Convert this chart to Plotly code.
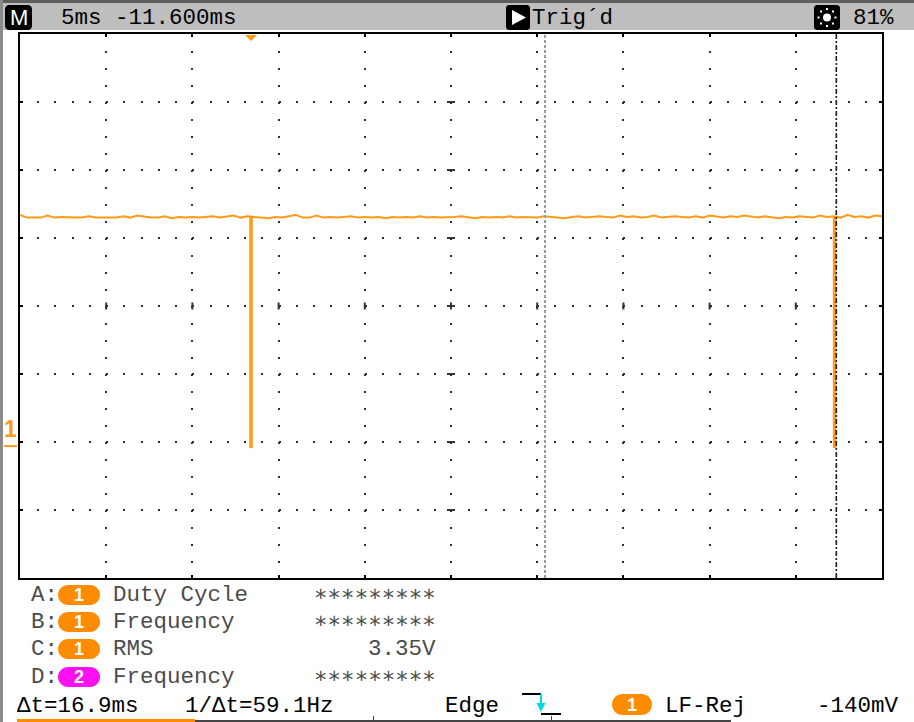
import math
import numpy as np
import plotly.graph_objects as go

time_div_ms = 5.0
volt_div = 1.0
x_range_ms = [-13.4, 36.6]    # 10 divisions, trigger point at 0 ms
y_range_v = [-1.94, 6.06]     # 8 divisions, CH1 ground at 0 V

t_ch1_ms = np.linspace(-13.4, 36.6, 126)   # sample times
v_ch1 = [
    3.40, 3.36, 3.36, 3.36, 3.39, 3.36, 3.37, 3.36, 3.36, 3.36, 3.38, 3.36, 3.36, 3.37,
    3.36, 3.38, 3.36, 3.39, 3.37, 3.36, 3.36, 3.38, 3.35, 3.37, 3.36, 3.37, 3.36, 3.37,
    3.38, 3.36, 3.37, 3.39, 3.36, 3.38, 3.37, 3.36, 3.35, 3.37, 3.36, 3.38, 3.40, 3.36,
    3.36, 3.39, 3.36, 3.37, 3.36, 3.37, 3.38, 3.36, 3.37, 3.36, 3.37, 3.35, 3.37, 3.36,
    3.37, 3.36, 3.38, 3.36, 3.37, 3.36, 3.36, 3.37, 3.38, 3.36, 3.35, 3.37, 3.36, 3.37,
    3.36, 3.38, 3.36, 3.37, 3.37, 3.36, 3.38, 3.37, 3.36, 3.35, 3.37, 3.38, 3.36, 3.37,
    3.38, 3.37, 3.36, 3.39, 3.37, 3.38, 3.36, 3.37, 3.39, 3.36, 3.37, 3.38, 3.37, 3.36,
    3.38, 3.36, 3.39, 3.37, 3.36, 3.38, 3.37, 3.39, 3.37, 3.36, 3.38, 3.37, 3.35, 3.37,
    3.36, 3.38, 3.37, 3.36, 3.39, 3.37, 3.38, 3.36, 3.40, 3.37, 3.38, 3.36, 3.39, 3.38,
]
spike_t_ms = [0.0, 33.85]
spike_top_v = [3.37, 3.37]
spike_bottom_v = [-0.03, -0.03]
cursor_t_ms = [17.05, 33.95]
trigger_t_ms = 0.0

top_left_text = "5ms -11.600ms"
trig_text = "Trig\u00b4d"
bright_text = "81%"
meas_keys = ["A:", "B:", "C:", "D:"]
meas_chan = ["1", "1", "1", "2"]
meas_names = ["Duty Cycle", "Frequency", "RMS", "Frequency"]
meas_values = ["\u2217" * 9, "\u2217" * 9, "3.35V", "\u2217" * 9]
status_dt = "\u0394t=16.9ms"
status_inv = "1/\u0394t=59.1Hz"
trig_type = "Edge"
trig_chan = "1"
trig_coupling = "LF-Rej"
trig_level = "-140mV"

# ---------------- styling ----------------
W, H = 914, 722
ORANGE = "#FF9A14"
PILL_ORANGE = "#FF8C00"
MAGENTA = "#FF10F0"
MONO = "Liberation Mono, DejaVu Sans Mono, monospace"
SANS = "Liberation Sans, Arial, sans-serif"
PLOT_L, PLOT_R, PLOT_T, PLOT_B = 20, 882, 34, 578
FS = 22.5


def px(x):
    return x / W


def py(y):
    return 1 - y / H


shapes = []
annotations = []


def rect(x0, y0, x1, y1, color):
    shapes.append(dict(type="rect", xref="paper", yref="paper",
                       x0=px(x0), x1=px(x1), y0=py(y1), y1=py(y0),
                       fillcolor=color, line=dict(width=0), layer="above"))


def pline(x0, y0, x1, y1, color, width=1, dash="solid"):
    shapes.append(dict(type="line", xref="paper", yref="paper",
                       x0=px(x0), x1=px(x1), y0=py(y0), y1=py(y1),
                       line=dict(color=color, width=width, dash=dash)))


def rounded(x0, y0, x1, y1, r, color):
    k = 0.5523 * r

    def p(x, y):
        return f"{px(x):.6f},{py(y):.6f}"
    d = (f"M{p(x0 + r, y0)} L{p(x1 - r, y0)} "
         f"C{p(x1 - r + k, y0)} {p(x1, y0 + r - k)} {p(x1, y0 + r)} "
         f"L{p(x1, y1 - r)} "
         f"C{p(x1, y1 - r + k)} {p(x1 - r + k, y1)} {p(x1 - r, y1)} "
         f"L{p(x0 + r, y1)} "
         f"C{p(x0 + r - k, y1)} {p(x0, y1 - r + k)} {p(x0, y1 - r)} "
         f"L{p(x0, y0 + r)} "
         f"C{p(x0, y0 + r - k)} {p(x0 + r - k, y0)} {p(x0 + r, y0)} Z")
    shapes.append(dict(type="path", xref="paper", yref="paper", path=d,
                       fillcolor=color, line=dict(width=0), layer="above"))


def poly(points, color):
    d = "M" + " L".join(f"{px(x):.6f},{py(y):.6f}" for x, y in points) + " Z"
    shapes.append(dict(type="path", xref="paper", yref="paper", path=d,
                       fillcolor=color, line=dict(width=0), layer="above"))


def label(x, y, text, color="#000000", size=FS, anchor="left", family=MONO):
    annotations.append(dict(xref="paper", yref="paper", x=px(x), y=py(y),
                            text=text, showarrow=False, xanchor=anchor,
                            yanchor="middle", borderpad=0,
                            font=dict(family=family, size=size, color=color)))


# ---------------- frame and top bar ----------------
rect(0, 0, W, 30, "#bebebe")
rect(0, 0, W, 3, "#5e5e5e")
rect(0, 0, 3, H, "#8a8a8a")

rounded(5, 5, 32, 30, 4, "#000000")
label(18.5, 17.5, "M", "#ffffff", 22, "center", SANS)
label(60, 17.5, top_left_text, "#000000")

rounded(506, 5, 530, 30, 3, "#000000")
poly([(512, 10), (526, 17.5), (512, 25)], "#ffffff")
label(531, 17.5, trig_text, "#000000")

rounded(814, 5, 840, 30, 3, "#000000")
shapes.append(dict(type="circle", xref="paper", yref="paper",
                   x0=px(823), x1=px(831), y0=py(21.5), y1=py(13.5),
                   fillcolor="#ffffff", line=dict(width=0)))
for i in range(8):
    a = i * math.pi / 4
    cx, cy = 827 + 8.5 * math.cos(a), 17.5 + 8.5 * math.sin(a)
    rect(cx - 1, cy - 1, cx + 1, cy + 1, "#ffffff")
label(852, 17.5, bright_text, "#000000")

# ---------------- measurements ----------------
row_y = [595, 622, 649, 677]
for key, ch, name, val, yc in zip(meas_keys, meas_chan, meas_names, meas_values, row_y):
    label(30, yc, key, "#4c4c4c")
    rounded(58, yc - 10, 100, yc + 10, 10, PILL_ORANGE if ch == "1" else MAGENTA)
    label(79, yc, f"<b>{ch}</b>", "#ffffff", 18, "center", SANS)
    label(112, yc, name, "#4c4c4c")
    label(437, yc, val, "#4c4c4c", FS, "right")

# ---------------- status line ----------------
sy = 706
label(16, sy, status_dt, "#000000")
label(184, sy, status_inv, "#000000")
label(444, sy, trig_type, "#000000")
pline(522, 694, 541, 694, "#000000", 2)
pline(541, 694, 541, 706, "#00d8e8", 2)
poly([(536.5, 703), (545.5, 703), (541, 712)], "#00d8e8")
pline(541, 714, 561, 714, "#000000", 2)
rounded(612, 694, 652, 715, 10.5, PILL_ORANGE)
label(632, 704.5, f"<b>{trig_chan}</b>", "#ffffff", 18, "center", SANS)
label(664, sy, trig_coupling, "#000000")
label(900, sy, trig_level, "#000000", FS, "right")

rect(17, 719, 195, 722, PILL_ORANGE)
rect(195, 720, 731, 722, "#444444")
for sx in (373, 551):
    rect(sx, 716, sx + 1, 722, "#444444")

# ---------------- traces ----------------
fig = go.Figure()
fig.add_trace(go.Scatter(x=t_ch1_ms, y=v_ch1, mode="lines",
                         line=dict(color=ORANGE, width=2), hoverinfo="skip"))
for t, top, bot in zip(spike_t_ms, spike_top_v, spike_bottom_v):
    fig.add_trace(go.Scatter(x=[t, t], y=[top, bot], mode="lines",
                             line=dict(color=ORANGE, width=3.5), hoverinfo="skip"))

# cursors
shapes.append(dict(type="line", xref="x", yref="y domain",
                   x0=cursor_t_ms[0], x1=cursor_t_ms[0], y0=0, y1=1,
                   line=dict(color="#9a9a9a", width=2, dash="3px,2px")))
shapes.append(dict(type="line", xref="x", yref="y domain",
                   x0=cursor_t_ms[1], x1=cursor_t_ms[1], y0=0, y1=1,
                   line=dict(color="#1a1a1a", width=1.6, dash="5px,2px,2px,2px")))

# trigger position marker
shapes.append(dict(type="path", xref="x", yref="y", xsizemode="pixel", ysizemode="pixel",
                   xanchor=trigger_t_ms, yanchor=y_range_v[1],
                   path="M-6,-1 L6,-1 L0,-7 Z", fillcolor=ORANGE, line=dict(width=0)))

# channel 1 ground marker
annotations.append(dict(xref="paper", yref="y", x=px(10.5), y=0, text="<b>1</b>",
                        showarrow=False, xanchor="center", yanchor="bottom",
                        yshift=3, borderpad=0,
                        font=dict(family=SANS, size=23, color=ORANGE)))
shapes.append(dict(type="line", xref="paper", yref="y", x0=px(4), x1=px(17),
                   y0=0, y1=0, line=dict(color=ORANGE, width=2)))

# centre-line division marks
c_t = (x_range_ms[0] + x_range_ms[1]) / 2
c_v = (y_range_v[0] + y_range_v[1]) / 2
v_per_px = (y_range_v[1] - y_range_v[0]) / (PLOT_B - PLOT_T)
t_per_px = (x_range_ms[1] - x_range_ms[0]) / (PLOT_R - PLOT_L)
for k in range(1, 10):
    tk = x_range_ms[0] + k * time_div_ms
    shapes.append(dict(type="line", xref="x", yref="y", x0=tk, x1=tk,
                       y0=c_v - 3.5 * v_per_px, y1=c_v + 3.5 * v_per_px,
                       line=dict(color="#333333", width=2)))
for k in range(1, 8):
    vk = y_range_v[0] + k * volt_div
    shapes.append(dict(type="line", xref="x", yref="y",
                       x0=c_t - 4 * t_per_px, x1=c_t + 4 * t_per_px, y0=vk, y1=vk,
                       line=dict(color="#333333", width=2)))

fig.update_layout(
    width=W, height=H, autosize=False,
    margin=dict(l=0, r=0, t=0, b=0),
    paper_bgcolor="#ffffff", plot_bgcolor="#ffffff",
    showlegend=False,
    shapes=shapes, annotations=annotations,
    xaxis=dict(domain=[px(PLOT_L), px(PLOT_R)], range=x_range_ms,
               tick0=x_range_ms[0], dtick=time_div_ms,
               showgrid=True, gridcolor="#2e2e2e", gridwidth=2, griddash="2px,15px",
               zeroline=False, showticklabels=False,
               ticks="inside", ticklen=3, tickwidth=2, tickcolor="#000000",
               showline=True, linecolor="#000000", linewidth=2, mirror="ticks",
               fixedrange=True),
    yaxis=dict(domain=[py(PLOT_B), py(PLOT_T)], range=y_range_v,
               tick0=y_range_v[0], dtick=volt_div,
               showgrid=True, gridcolor="#2e2e2e", gridwidth=2, griddash="2px,15.24px",
               zeroline=False, showticklabels=False,
               ticks="inside", ticklen=3, tickwidth=2, tickcolor="#000000",
               showline=True, linecolor="#000000", linewidth=2, mirror="ticks",
               fixedrange=True),
)

fig.write_html("out.html", config={"displayModeBar": False},
               post_script="document.body.style.margin='0';")
